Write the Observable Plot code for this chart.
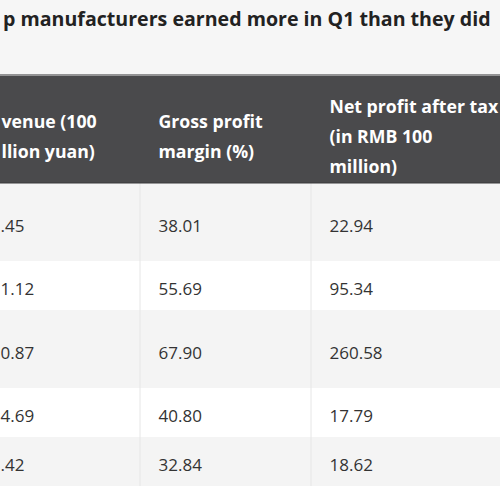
<!DOCTYPE html>
<html><head><meta charset="utf-8">
<script src="https://cdn.jsdelivr.net/npm/d3@7"></script>
<script src="https://cdn.jsdelivr.net/npm/@observablehq/plot@0.6"></script>
<style>
html,body{margin:0;padding:0;width:500px;height:500px;overflow:hidden;background:#fff;font-family:"Open Sans",sans-serif;}
#title{height:74px;background:#f6f6f6;box-sizing:border-box;margin:0;padding:9px 0 0 3px;font-weight:700;font-size:19.6px;line-height:1;color:#222;white-space:nowrap;overflow:hidden;}
#chart svg{display:block;overflow:hidden;}
</style></head><body>
<div id="title">p manufacturers earned more in Q1 than they did</div>
<div id="chart"></div>
<script>
// ---- data ----
const headerLabels = ["venue (100\nllion yuan)", "Gross profit\nmargin (%)", "Net profit after tax\n(in RMB 100\nmillion)"]; // first header is cut on the left in the reference
const revenueVisible = [".45", "1.12", "0.87", "4.69", ".42"]; // left part cut off in the reference
const grossMargin = [38.01, 55.69, 67.90, 40.80, 32.84];
const netProfit = [22.94, 95.34, 260.58, 17.79, 18.62];

// ---- layout ----
const W = 500, H = 426;
const colLeft = [-39, 139, 310];
const pad = 19;
const headerH = 109;
const rowLines = [2, 1, 2, 1, 1];   // wrapped lines of the (hidden) name column
const lineH = 29, rowPad = 20;
const fs = 17, hfs = 17.7;
const cutX = 0, cutHeadX = 1;

const rows = grossMargin.map((g, i) => ({i, rev: revenueVisible[i], gross: g.toFixed(2), net: netProfit[i].toFixed(2)}));
let acc = headerH;
rows.forEach((r, i) => { r.y1 = acc; r.y2 = acc + rowPad + rowLines[i] * lineH; r.yc = (r.y1 + r.y2) / 2; acc = r.y2; });
const tableBottom = acc;

const cells = rows.flatMap(r => [
  {x: cutX, y: r.yc, t: r.rev},
  {x: colLeft[1] + pad, y: r.yc, t: r.gross},
  {x: colLeft[2] + pad, y: r.yc, t: r.net}
]);
const heads = headerLabels.map((t, j) => ({x: j === 0 ? cutHeadX : colLeft[j] + pad, y: headerH / 2, t}));
const band = [{y1: 0, y2: headerH}];

const chart = Plot.plot({
  width: W, height: H, margin: 0,
  x: {type: "identity", axis: null},
  y: {type: "identity", axis: null},
  style: {background: "#ffffff", fontFamily: "Open Sans, sans-serif"},
  marks: [
    Plot.rect(rows.filter(r => r.i % 2 === 0), {x1: 0, x2: W, y1: "y1", y2: "y2", fill: "#f4f4f4"}),
    Plot.rect(rows.filter(r => r.i % 2 === 1), {x1: 0, x2: W, y1: "y1", y2: "y2", fill: "#ffffff"}),
    Plot.ruleX([colLeft[1], colLeft[2]], {x: d => d + 0.5, y1: headerH, y2: tableBottom, stroke: "#e6e6e6"}),
    Plot.rect(band, {x1: 0, x2: W, y1: "y1", y2: "y2", fill: "#4a4a4c"}),
    Plot.ruleY([0.5], {stroke: "#dcdcdc"}),
    Plot.ruleY([headerH - 0.5], {stroke: "#38383a"}),
    Plot.text(heads, {x: "x", y: d => d.y + 4, text: "t", textAnchor: "start", lineAnchor: "middle", lineHeight: 30 / hfs, fill: "#ffffff", fontWeight: 700, fontSize: hfs}),
    Plot.text(cells, {x: "x", y: d => d.y + 4, text: "t", textAnchor: "start", lineAnchor: "middle", fill: "#333333", fontSize: fs})
  ]
});
document.getElementById("chart").appendChild(chart);
</script>
</body></html>
